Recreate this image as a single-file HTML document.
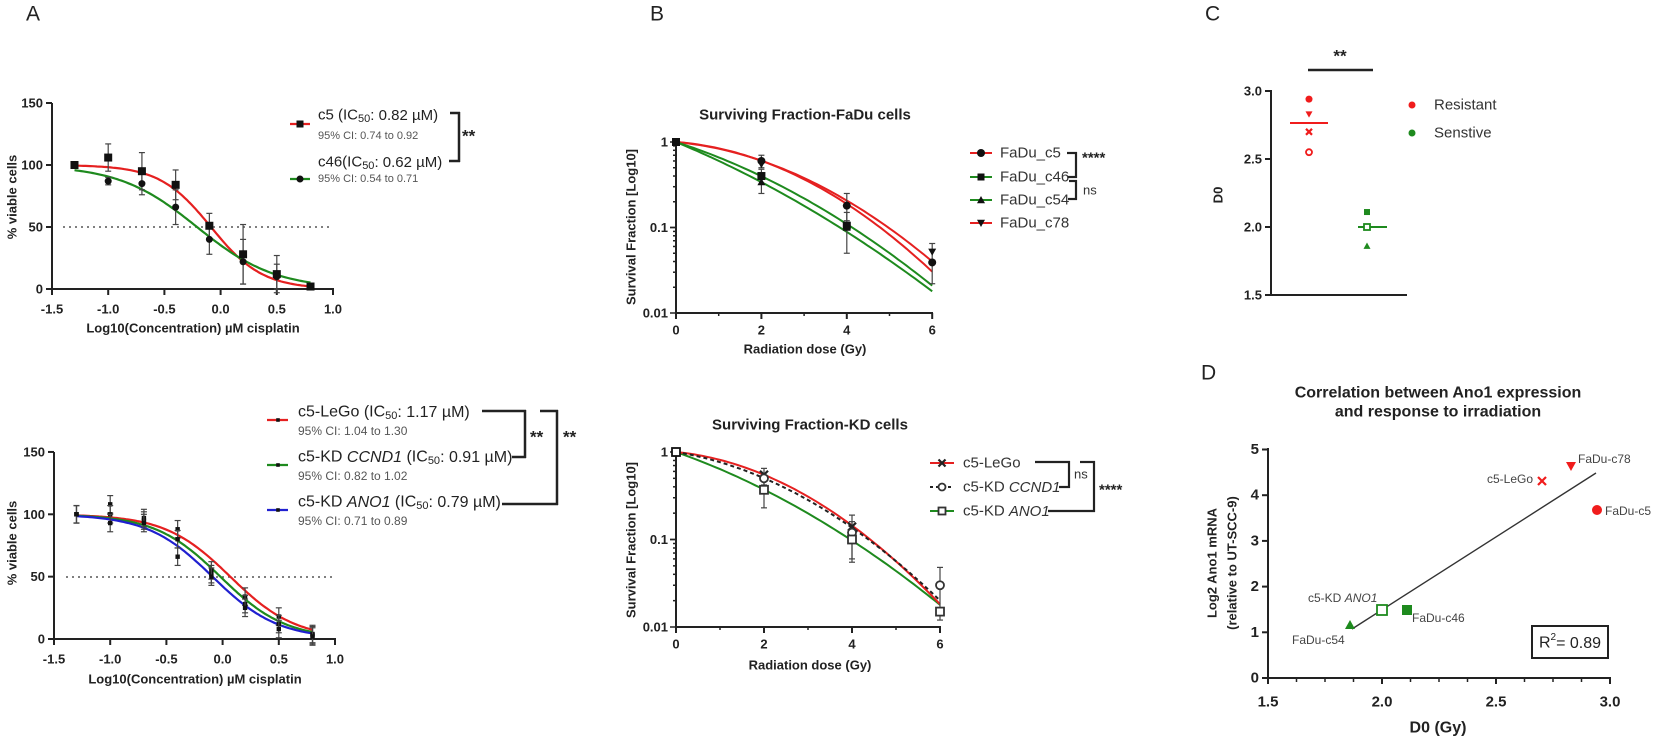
<!DOCTYPE html>
<html><head><meta charset="utf-8"><style>
html,body{margin:0;padding:0;background:#fff;}
svg{display:block;font-family:"Liberation Sans",Arial,sans-serif;}
</style></head><body>
<svg id="s" width="1654" height="738" viewBox="0 0 1654 738" xmlns="http://www.w3.org/2000/svg"></svg>
<script>
var o='';
function L(x1,y1,x2,y2,c,w,d){o+='<line x1="'+x1+'" y1="'+y1+'" x2="'+x2+'" y2="'+y2+'" stroke="'+(c||'#222')+'" stroke-width="'+(w||2)+'"'+(d?' stroke-dasharray="'+d+'"':'')+'/>';}
function T(x,y,s,sz,opt){opt=opt||{};o+='<text x="'+x+'" y="'+y+'" font-size="'+sz+'" fill="'+(opt.c||'#222')+'"'+(opt.b?' font-weight="bold"':'')+(opt.a?' text-anchor="'+opt.a+'"':'')+(opt.r?' transform="rotate(-90 '+x+' '+y+')"':'')+' dominant-baseline="central">'+s+'</text>';}
function P(pts,c,w,d){o+='<polyline fill="none" stroke="'+c+'" stroke-width="'+(w||2)+'"'+(d?' stroke-dasharray="'+d+'"':'')+' points="'+pts.map(function(p){return p[0].toFixed(1)+','+p[1].toFixed(1)}).join(' ')+'"/>';}
function M(type,x,y,r,c){c=c||'#111';
 if(type=='sq')o+='<rect x="'+(x-r)+'" y="'+(y-r)+'" width="'+2*r+'" height="'+2*r+'" fill="'+c+'"/>';
 else if(type=='osq')o+='<rect x="'+(x-r)+'" y="'+(y-r)+'" width="'+2*r+'" height="'+2*r+'" fill="#fff" stroke="'+c+'" stroke-width="1.8"/>';
 else if(type=='ci')o+='<circle cx="'+x+'" cy="'+y+'" r="'+r+'" fill="'+c+'"/>';
 else if(type=='oci')o+='<circle cx="'+x+'" cy="'+y+'" r="'+r+'" fill="#fff" stroke="'+c+'" stroke-width="1.8"/>';
 else if(type=='tu')o+='<polygon points="'+x+','+(y-r)+' '+(x+r)+','+(y+r*0.8)+' '+(x-r)+','+(y+r*0.8)+'" fill="'+c+'"/>';
 else if(type=='td')o+='<polygon points="'+x+','+(y+r)+' '+(x+r)+','+(y-r*0.8)+' '+(x-r)+','+(y-r*0.8)+'" fill="'+c+'"/>';
 else if(type=='x'){L(x-r,y-r,x+r,y+r,c,2.2);L(x-r,y+r,x+r,y-r,c,2.2);}
}
function EB(x,y1,y2){L(x,y1,x,y2,'#444',1.2);L(x-3,y1,x+3,y1,'#444',1.2);L(x-3,y2,x+3,y2,'#444',1.2);}
function IC(name,ic){return name+' (IC<tspan font-size="11" dy="4">50</tspan><tspan dy="-4">: '+ic+' µM)</tspan>';}

T(26,14,'A',21);T(650,14,'B',21);T(1205,14,'C',21);T(1201,373,'D',21);

// ---- Panel A top
(function(){
 var X=function(v){return 52+(v+1.5)*112.4},Y=function(v){return 289-v*1.24};
 L(52,103,52,290);L(51,289,334,289);
 [0,50,100,150].forEach(function(v){L(46,Y(v),52,Y(v));T(43,Y(v),v,13,{b:1,a:'end'});});
 [-1.5,-1,-0.5,0,0.5,1].forEach(function(v){L(X(v),289,X(v),295);T(X(v),309,v.toFixed(1),13,{b:1,a:'middle'});});
 T(193,328,'Log10(Concentration) µM cisplatin',13,{b:1,a:'middle'});
 T(12,197,'% viable cells',13,{b:1,a:'middle',r:1});
 L(63,227,333,227,'#555',1.6,'2,4');
 function sig(ic,h){var p=[];for(var x=-1.3;x<=0.801;x+=0.02)p.push([X(x),Y(100/(1+Math.pow(10,(x-ic)*h)))]);return p;}
 P(sig(-0.086,1.9),'#e52020',2.2);P(sig(-0.21,1.25),'#1e8a1e',2.2);
 var xs=[-1.3,-1,-0.7,-0.4,-0.1,0.2,0.5,0.8],a=[100,106,95,84,51,28,12,2],b=[100,87,85,66,40,22,10,2];
 var ea=[0,11,15,12,10,24,15,1],eb=[0,3,9,14,12,18,10,1];
 xs.forEach(function(x,i){EB(X(x),Y(a[i]+ea[i]),Y(a[i]-ea[i]));EB(X(x),Y(b[i]+eb[i]),Y(b[i]-eb[i]));M('sq',X(x),Y(a[i]),4);M('ci',X(x),Y(b[i]),3.5);});
 L(290,124,310,124,'#e52020',2.2);M('sq',300,124,3.5);
 T(318,115,IC('c5','0.82'),15);T(318,136,'95% CI: 0.74 to 0.92',11,{c:'#555'});
 T(318,162,'c46(IC<tspan font-size="11" dy="4">50</tspan><tspan dy="-4">: 0.62 µM)</tspan>',15);
 L(290,179,310,179,'#1e8a1e',2.2);M('ci',300,179,3.5);T(318,179,'95% CI: 0.54 to 0.71',11,{c:'#555'});
 L(450,113,460,113,'#222',2.5);L(459,112,459,162,'#222',2.5);L(449,161,460,161,'#222',2.5);
 T(462,136,'**',17,{b:1});
})();

// ---- Panel A bottom
(function(){
 var X=function(v){return 54+(v+1.5)*112.4},Y=function(v){return 639-v*1.247};
 L(54,452,54,640);L(53,639,336,639);
 [0,50,100,150].forEach(function(v){L(48,Y(v),54,Y(v));T(45,Y(v),v,13,{b:1,a:'end'});});
 [-1.5,-1,-0.5,0,0.5,1].forEach(function(v){L(X(v),639,X(v),645);T(X(v),659,v.toFixed(1),13,{b:1,a:'middle'});});
 T(195,679,'Log10(Concentration) µM cisplatin',13,{b:1,a:'middle'});
 T(12,543,'% viable cells',13,{b:1,a:'middle',r:1});
 L(66,577,333,577,'#555',1.6,'2,4');
 function sig(ic,h){var p=[];for(var x=-1.3;x<=0.801;x+=0.02)p.push([X(x),Y(100/(1+Math.pow(10,(x-ic)*h)))]);return p;}
 P(sig(0.068,1.5),'#e52020',2.2);P(sig(-0.02,1.5),'#1e8a1e',2.2);P(sig(-0.09,1.5),'#2020d0',2.2);
 var xs=[-1.3,-1,-0.7,-0.4,-0.1,0.2,0.5,0.8],s=[[100,108,97,88,55,34,18,4],[100,100,95,80,52,28,12,3],[100,93,93,66,50,25,8,2]];
 xs.forEach(function(x,i){s.forEach(function(r){EB(X(x),Y(r[i]+7),Y(r[i]-7));M('sq',X(x),Y(r[i]),2.2);});});
 var rows=[[412,'c5-LeGo','1.17','#e52020','1.04 to 1.30'],[457,'c5-KD <tspan font-style="italic">CCND1</tspan>','0.91','#1e8a1e','0.82 to 1.02'],[502,'c5-KD <tspan font-style="italic">ANO1</tspan>','0.79','#2020d0','0.71 to 0.89']];
 rows.forEach(function(r){L(267,r[0]+8,288,r[0]+8,r[3],2.2);M('sq',278,r[0]+8,1.8);T(298,r[0],IC(r[1],r[2]),16);T(298,r[0]+19,'95% CI: '+r[4],12,{c:'#555'});});
 L(482,411,526,411,'#222',2.5);L(525,410,525,458,'#222',2.5);L(512,457,526,457,'#222',2.5);
 T(530,437,'**',17,{b:1});
 L(540,411,558,411,'#222',2.5);L(557,410,557,505,'#222',2.5);L(502,504,558,504,'#222',2.5);
 T(563,437,'**',17,{b:1});
})();

// ---- Panel B
function logAxis(x0,ytop,ybot,dec,xEnd,Xf){
 L(x0,ytop-2,x0,ybot+1);L(x0-1,ybot,xEnd,ybot);
 for(var k=0;k<2;k++){for(var m=1;m<=10;m++){var y=ybot-(k+Math.log10(m))*dec;L(x0-(m==1||m==10?6:3),y,x0,y,'#222',1.5);}}
 T(x0-8,ybot,'0.01',13,{b:1,a:'end'});T(x0-8,ybot-dec,'0.1',13,{b:1,a:'end'});T(x0-8,ybot-2*dec,'1',13,{b:1,a:'end'});
 [0,2,4,6].forEach(function(d){L(Xf(d),ybot,Xf(d),ybot+6);T(Xf(d),ybot+17,d,13,{b:1,a:'middle'});});
 [1,3,5].forEach(function(d){L(Xf(d),ybot,Xf(d),ybot+3,'#222',1.5);});
}
function lq(Xf,Yf,a,b){var p=[];for(var d=0;d<=6.001;d+=0.1)p.push([Xf(d),Yf(Math.pow(10,-a*d-b*d*d))]);return p;}
(function(){
 var X=function(d){return 676+d*42.7},Y=function(s){return 142-Math.log10(s)*85.5};
 T(805,115,'Surviving Fraction-FaDu cells',15,{b:1,a:'middle'});
 logAxis(676,142,313,85.5,933,X);
 T(805,349,'Radiation dose (Gy)',13,{b:1,a:'middle'});
 T(631,227,'Survival Fraction [Log10]',13,{b:1,a:'middle',r:1});
 P(lq(X,Y,0.048,0.0308),'#e52020',2);P(lq(X,Y,0.038,0.0358),'#e52020',2);
 P(lq(X,Y,0.16,0.02),'#1e8a1e',2);P(lq(X,Y,0.207,0.014),'#1e8a1e',2);
 EB(X(2),Y(0.7),Y(0.5));EB(X(2),Y(0.48),Y(0.25));EB(X(4),Y(0.25),Y(0.12));EB(X(4),Y(0.15),Y(0.05));EB(X(6),Y(0.065),Y(0.022));
 M('sq',X(0),Y(1),4);M('ci',X(2),Y(0.6),4);M('td',X(2),Y(0.55),4);M('sq',X(2),Y(0.4),4);M('tu',X(2),Y(0.34),4);
 M('ci',X(4),Y(0.18),4);M('sq',X(4),Y(0.105),4);M('tu',X(4),Y(0.1),4);M('td',X(6),Y(0.052),4);M('ci',X(6),Y(0.039),4);
 var rows=[[153,'FaDu_c5','#e52020','ci'],[177,'FaDu_c46','#1e8a1e','sq'],[200,'FaDu_c54','#1e8a1e','tu'],[223,'FaDu_c78','#e52020','td']];
 rows.forEach(function(r){L(970,r[0],992,r[0],r[2],2);M(r[3],981,r[0],r[3]=='sq'?3.5:4);T(1000,r[0],r[1],15,{c:'#333'});});
 L(1067,153,1077,153,'#222',2.2);L(1076,152,1076,178,'#222',2.2);L(1068,177,1077,177,'#222',2.2);
 T(1082,158,'****',15,{b:1});
 L(1069,181,1077,181,'#222',2.2);L(1076,180,1076,200,'#222',2.2);L(1068,199,1077,199,'#222',2.2);
 T(1083,190,'ns',13,{c:'#333'});
})();
(function(){
 var X=function(d){return 676+d*44},Y=function(s){return 452-Math.log10(s)*87.5};
 T(810,425,'Surviving Fraction-KD cells',15,{b:1,a:'middle'});
 logAxis(676,452,627,87.5,941,X);
 T(810,665,'Radiation dose (Gy)',13,{b:1,a:'middle'});
 T(631,540,'Survival Fraction [Log10]',13,{b:1,a:'middle',r:1});
 P(lq(X,Y,0.177,0.019),'#1e8a1e',2);P(lq(X,Y,0.05,0.040),'#e52020',2);P(lq(X,Y,0.083,0.0333),'#222',2,'4,3');
 EB(X(2),Y(0.65),Y(0.42));EB(X(2),Y(0.5),Y(0.23));EB(X(4),Y(0.19),Y(0.06));EB(X(4),Y(0.16),Y(0.055));EB(X(6),Y(0.048),Y(0.012));
 M('osq',X(0),Y(1),4);M('x',X(2),Y(0.55),4,'#222');M('oci',X(2),Y(0.5),4,'#333');M('osq',X(2),Y(0.37),4,'#333');
 M('x',X(4),Y(0.14),4,'#222');M('oci',X(4),Y(0.12),4,'#333');M('osq',X(4),Y(0.1),4,'#333');
 M('oci',X(6),Y(0.03),4,'#333');M('osq',X(6),Y(0.015),4,'#333');
 L(930,463,954,463,'#e52020',2);M('x',942,463,3.5,'#222');T(963,463,'c5-LeGo',15,{c:'#333'});
 L(930,487,954,487,'#222',2,'3,3');M('oci',942,487,3.5,'#333');T(963,487,'c5-KD <tspan font-style="italic">CCND1</tspan>',15,{c:'#333'});
 L(930,511,954,511,'#1e8a1e',2);M('osq',942,511,3.5,'#333');T(963,511,'c5-KD <tspan font-style="italic">ANO1</tspan>',15,{c:'#333'});
 L(1035,462,1070,462,'#222',2.2);L(1069,461,1069,488,'#222',2.2);L(1059,487,1070,487,'#222',2.2);
 T(1074,474,'ns',13,{c:'#333'});
 L(1080,462,1095,462,'#222',2.2);L(1094,461,1094,512,'#222',2.2);L(1048,511,1095,511,'#222',2.2);
 T(1099,490,'****',15,{b:1});
})();

// ---- Panel C
(function(){
 var Y=function(v){return 295-(v-1.5)*136};
 L(1271,90,1271,296);L(1270,295,1407,295);
 [1.5,2,2.5,3].forEach(function(v){L(1265,Y(v),1271,Y(v));T(1262,Y(v),v.toFixed(1),13,{b:1,a:'end'});});
 T(1218,195,'D0',13,{b:1,a:'middle',r:1});
 L(1308,70,1373,70,'#222',2.5);T(1340,56,'**',17,{b:1,a:'middle'});
 var R='#f01c1c',G='#1e8a1e';
 L(1290,Y(2.765),1328,Y(2.765),R,2);
 M('ci',1309,Y(2.94),3.5,R);M('td',1309,Y(2.83),3.5,R);M('x',1309,Y(2.70),3,R);M('oci',1309,Y(2.55),3,R);
 L(1358,Y(2.0),1387,Y(2.0),G,2);
 M('sq',1367,Y(2.11),3,G);M('osq',1367,Y(2.0),3,G);M('tu',1367,Y(1.86),3.5,G);
 M('ci',1412,105,3.5,R);T(1434,105,'Resistant',15,{c:'#333'});
 M('ci',1412,133,3.5,G);T(1434,133,'Senstive',15,{c:'#333'});
})();

// ---- Panel D
(function(){
 var X=function(v){return 1268+(v-1.5)*228},Y=function(v){return 678-v*45.7};
 T(1438,393,'Correlation between Ano1 expression',16,{b:1,a:'middle'});
 T(1438,412,'and response to irradiation',16,{b:1,a:'middle'});
 L(1268,448,1268,679);L(1267,678,1611,678);
 [0,1,2,3,4,5].forEach(function(v){L(1262,Y(v),1268,Y(v));T(1259,Y(v),v,15,{b:1,a:'end'});});
 for(var v=1.5;v<=3.001;v+=0.125){var big=Math.abs(v*2-Math.round(v*2))<0.01;L(X(v),678,X(v),678+(big?6:4),'#222',big?2:1.5);}
 [1.5,2,2.5,3].forEach(function(v){T(X(v),702,v.toFixed(1),15,{b:1,a:'middle'});});
 T(1438,728,'D0 (Gy)',16,{b:1,a:'middle'});
 T(1212,563,'Log2 Ano1 mRNA',13,{b:1,a:'middle',r:1});
 T(1232,563,'(relative to UT-SCC-9)',13,{b:1,a:'middle',r:1});
 L(1352,629,1596,473,'#333',1.4);
 var R='#f01c1c',G='#1e8a1e';
 M('td',1571,466,5,R);M('x',1542,481,4,R);M('ci',1597,510,5,R);
 M('osq',1382,610,5,G);M('sq',1407,610,5,G);M('tu',1350,625,5,G);
 T(1578,459,'FaDu-c78',12,{c:'#444'});T(1533,479,'c5-LeGo',12,{c:'#444',a:'end'});T(1605,511,'FaDu-c5',12,{c:'#444'});
 T(1308,598,'c5-KD <tspan font-style="italic">ANO1</tspan>',12,{c:'#444'});T(1412,618,'FaDu-c46',12,{c:'#444'});T(1292,640,'FaDu-c54',12,{c:'#444'});
 o+='<rect x="1532" y="626" width="76" height="32" fill="none" stroke="#222" stroke-width="2"/>';
 T(1570,643,'R<tspan font-size="10" dy="-6">2</tspan><tspan dy="6">= 0.89</tspan>',16,{a:'middle'});
})();

document.getElementById('s').innerHTML=o;
</script>
</body></html>
